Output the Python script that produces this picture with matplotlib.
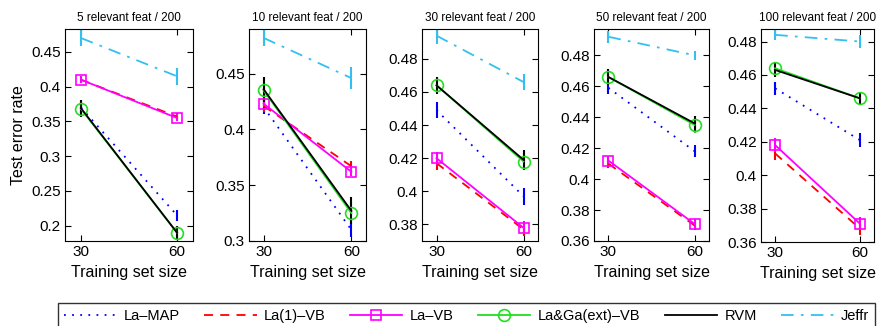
import numpy as np
import matplotlib.pyplot as plt
from matplotlib.lines import Line2D

plt.rcParams['font.family'] = ['Liberation Sans', 'DejaVu Sans']

# training set sizes on the x axis
sizes = [30, 60]
titles = ["5 relevant feat / 200", "10 relevant feat / 200", "30 relevant feat / 200",
          "50 relevant feat / 200", "100 relevant feat / 200"]

# mean test error per panel, [n=30, n=60]
la_map = [[0.370, 0.215], [0.420, 0.310], [0.449, 0.397], [0.459, 0.418], [0.452, 0.421]]
la1_vb = [[0.410, 0.357], [0.421, 0.367], [0.417, 0.377], [0.410, 0.370], [0.413, 0.368]]
la_vb = [[0.410, 0.355], [0.423, 0.362], [0.420, 0.378], [0.412, 0.371], [0.418, 0.371]]
laga_vb = [[0.368, 0.190], [0.435, 0.325], [0.464, 0.418], [0.466, 0.435], [0.464, 0.446]]
rvm = [[0.369, 0.190], [0.436, 0.327], [0.464, 0.419], [0.466, 0.436], [0.463, 0.446]]
jeffr = [[0.470, 0.415], [0.482, 0.446], [0.494, 0.466], [0.492, 0.480], [0.484, 0.480]]

# error bar half widths
la_map_err = [[0.010, 0.008], [0.006, 0.006], [0.005, 0.005], [0.004, 0.004], [0.004, 0.004]]
la1_vb_err = [[0.005, 0.005], [0.005, 0.005], [0.004, 0.004], [0.003, 0.003], [0.004, 0.004]]
la_vb_err = [[0.005, 0.005], [0.004, 0.004], [0.004, 0.004], [0.003, 0.003], [0.004, 0.004]]
laga_vb_err = [[0.010, 0.010], [0.010, 0.010], [0.005, 0.005], [0.005, 0.005], [0.004, 0.004]]
rvm_err = [[0.012, 0.010], [0.011, 0.012], [0.005, 0.006], [0.005, 0.005], [0.004, 0.004]]
jeffr_err = [[0.012, 0.012], [0.007, 0.010], [0.005, 0.005], [0.004, 0.003], [0.003, 0.004]]

# axis ranges and ticks per panel
ylims = [(0.178, 0.483), (0.30, 0.49), (0.37, 0.498), (0.36, 0.497), (0.36, 0.4875)]
yticks = [np.arange(0.2, 0.451, 0.05), np.arange(0.3, 0.451, 0.05),
          np.arange(0.38, 0.481, 0.02), np.arange(0.36, 0.481, 0.02),
          np.arange(0.36, 0.481, 0.02)]

# axes boxes in pixels: left, right, top, bottom
boxes = [(65, 193, 29, 241), (249, 366, 29, 241), (422, 538, 29, 241),
         (594, 709, 29, 241), (761, 874, 29, 242)]

W, H = 880, 326
fig = plt.figure(figsize=(W / 100, H / 100), dpi=100)

dots = (0, (1, 3.5))
series = [
    ("La–MAP", la_map, la_map_err, dict(color='blue', ls=dots, marker='none')),
    ("La(1)–VB", la1_vb, la1_vb_err, dict(color='red', ls=(0, (5, 4)), marker='none')),
    ("La–VB", la_vb, la_vb_err, dict(color='magenta', ls='-', marker='s', ms=7.5)),
    ("La&Ga(ext)–VB", laga_vb, laga_vb_err, dict(color='#22dd22', ls='-', marker='o', ms=8.5)),
    ("RVM", rvm, rvm_err, dict(color='black', ls='-', marker='none')),
    ("Jeffr", jeffr, jeffr_err, dict(color='#33c0f0', ls=(0, (7, 4, 1.5, 4)), marker='none')),
]

for i, (l, r, t, b) in enumerate(boxes):
    ax = fig.add_axes([l / W, 1 - b / H, (r - l) / W, (b - t) / H])
    for name, vals, errs, st in series:
        ax.errorbar(sizes, vals[i], yerr=errs[i], color=st['color'], ls=st['ls'],
                    marker=st['marker'], ms=st.get('ms', 6), mfc='none',
                    mew=1.2, lw=1.3, elinewidth=1.5, capsize=0)
    ax.set_xlim(25, 65)
    ax.set_xticks(sizes)
    ax.set_ylim(*ylims[i])
    ax.set_yticks(yticks[i])
    ax.set_yticklabels(['%g' % round(v, 2) for v in yticks[i]])
    ax.tick_params(direction='in', top=True, right=True, length=4, labelsize=11, pad=3)
    ax.set_title(titles[i], fontsize=8.5, pad=6)
    ax.set_xlabel("Training set size", fontsize=11.5, labelpad=4)
    if i == 0:
        ax.set_ylabel("Test error rate", fontsize=11.5, labelpad=4)

handles = [Line2D([], [], color=st['color'], ls=st['ls'], marker=st['marker'],
                  ms=st.get('ms', 6), mfc='none', mew=1.2, lw=1.3)
           for name, vals, errs, st in series]
leg = fig.legend(handles=handles, labels=[s[0] for s in series], loc='upper left',
                 bbox_to_anchor=(58 / W, 0, 817 / W, 1 - 303 / H), mode='expand',
                 ncol=6, fontsize=10.5, frameon=True, fancybox=False, handlelength=3.6,
                 borderaxespad=0, numpoints=1, handletextpad=0.5, borderpad=0.4)
leg.get_frame().set_edgecolor('black')
leg.get_frame().set_linewidth(1.0)

fig.savefig("out.png", dpi=100)
